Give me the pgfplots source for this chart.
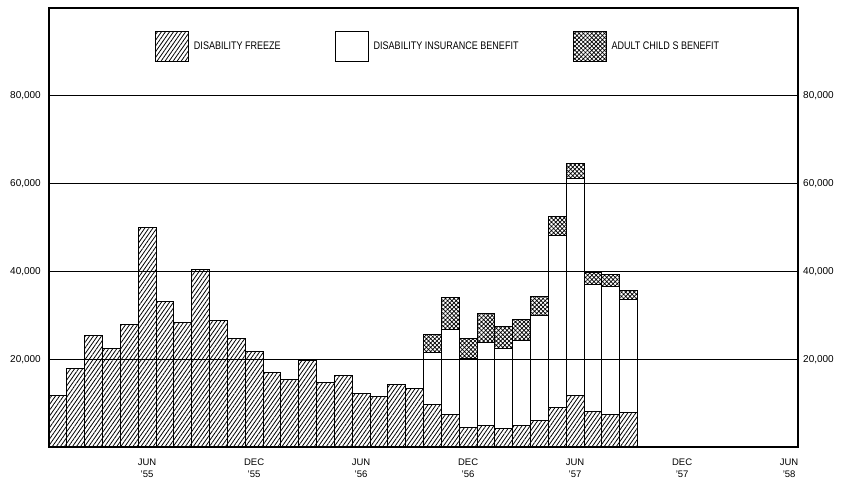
\documentclass[border=0pt]{standalone}
\usepackage{fontspec}
\setmainfont{Liberation Sans}
\usepackage{graphicx}
\usepackage{pgfplots}
\usepackage{pgfplotstable}
\pgfplotsset{compat=1.18}
\usetikzlibrary{patterns.meta}
\newcommand\leg[1]{\scalebox{0.82}[1]{#1}}

\pgfplotstableread{
x F D A
0.5 11700 0 0
1.5 17800 0 0
2.5 25400 0 0
3.5 22500 0 0
4.5 28000 0 0
5.5 50000 0 0
6.5 33100 0 0
7.5 28300 0 0
8.5 40400 0 0
9.5 28900 0 0
10.5 24800 0 0
11.5 21700 0 0
12.5 16900 0 0
13.5 15400 0 0
14.5 19700 0 0
15.5 14700 0 0
16.5 16200 0 0
17.5 12300 0 0
18.5 11400 0 0
19.5 14300 0 0
20.5 13300 0 0
21.5 9700 11900 4000
22.5 7300 19400 7300
23.5 4400 15700 4700
24.5 4900 18800 6700
25.5 4300 18100 5100
26.5 5000 19200 4800
27.5 6000 23900 4300
28.5 9100 39100 4400
29.5 11800 49400 3300
30.5 8200 28800 2700
31.5 7500 29100 2700
32.5 7900 25700 2100
}\datatable

\begin{document}
\begin{tikzpicture}
\begin{axis}[
  at={(0pt,0pt)}, anchor=south west,
  width=749pt, height=439pt, scale only axis,
  xmin=0, xmax=42, ymin=0, ymax=100000,
  scaled y ticks=false,
  ybar stacked, bar width=1,
  xtick={5.5,11.5,17.5,23.5,29.5,35.5,41.5},
  xticklabels={{JUN\\'55},{DEC\\'55},{JUN\\'56},{DEC\\'56},{JUN\\'57},{DEC\\'57},{JUN\\'58}},
  xticklabel style={align=center, font=\fontsize{9.5}{12}\selectfont, inner sep=0pt},
  xticklabel shift=12pt,
  ytick={20000,40000,60000,80000},
  yticklabels={{20,000},{40,000},{60,000},{80,000}},
  yticklabel style={font=\fontsize{10}{11}\selectfont, inner sep=0pt},
  yticklabel shift=8pt,
  ymajorgrids, major grid style={black, line width=0.7pt},
  major tick length=0pt,
  axis line style={line width=1.2pt},
  legend columns=3,
  legend style={at={(0.1415,0.9476)}, anchor=north west, draw=none, fill=none,
    inner sep=0pt, outer sep=0pt, row sep=0pt,
    font=\fontsize{11}{12}\selectfont,
    nodes={inner sep=0pt, anchor=west},
    /tikz/every odd column/.append style={column sep=5pt},
    /tikz/every even column/.append style={column sep=54pt}},
  legend image code/.code={\draw[#1, line width=1pt] (0pt,-15pt) rectangle (33pt,15pt);},
]
\addplot[draw=black, line width=1pt, pattern={Lines[angle=55,distance=3.3pt,line width=0.8pt]}] table[x=x,y=F]{\datatable};
\addlegendentry{\leg{DISABILITY FREEZE}}
\addplot[draw=black, line width=1pt, fill=none] table[x=x,y=D]{\datatable};
\addlegendentry{\leg{DISABILITY INSURANCE BENEFIT}}
\addplot[draw=black, line width=1pt, pattern={Hatch[angle=45,distance=3pt,line width=0.7pt]}] table[x=x,y=A]{\datatable};
\addlegendentry{\leg{ADULT CHILD S BENEFIT}}
\draw[line width=2.5pt] (axis cs:0,0) -- (axis cs:42,0);
\end{axis}
\begin{axis}[
  at={(0pt,0pt)}, anchor=south west,
  width=749pt, height=439pt, scale only axis,
  xmin=0, xmax=42, ymin=0, ymax=100000,
  scaled y ticks=false,
  axis x line=none, axis y line*=right,
  y axis line style={line width=1.2pt},
  ytick={20000,40000,60000,80000},
  yticklabels={{20,000},{40,000},{60,000},{80,000}},
  yticklabel style={font=\fontsize{10}{11}\selectfont, inner sep=0pt},
  yticklabel shift=5pt,
  major tick length=0pt,
]
\end{axis}
\pgfresetboundingbox
\path (-49pt,-34pt) rectangle (796pt,447pt);
\end{tikzpicture}
\end{document}
